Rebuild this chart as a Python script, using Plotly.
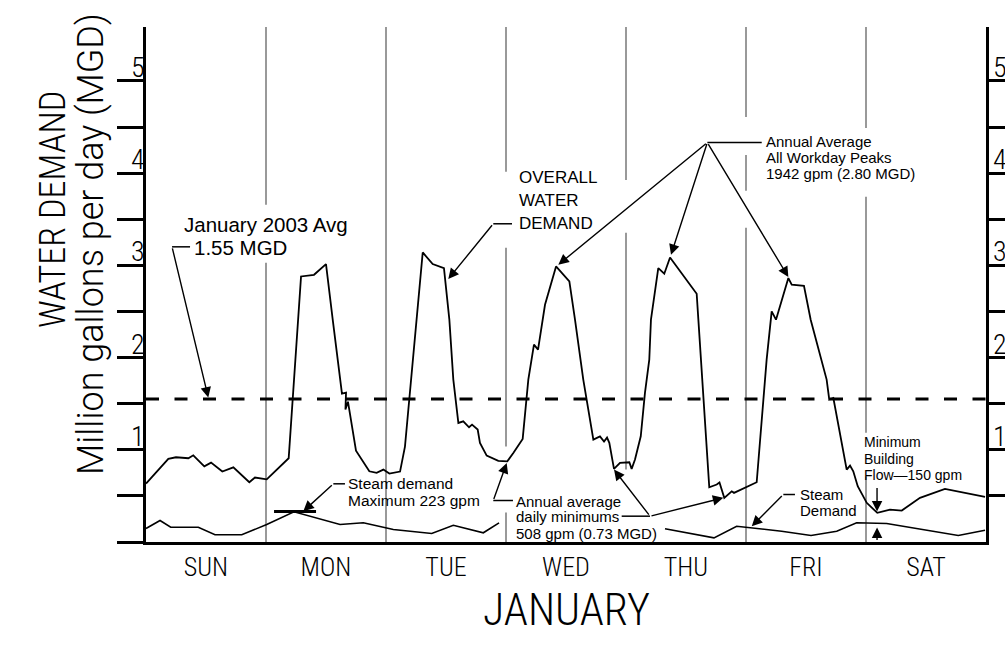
import plotly.graph_objects as go

# ---------------- data ----------------
DAYS = ["SUN", "MON", "TUE", "WED", "THU", "FRI", "SAT"]
DAY_CENTERS = [0.5, 1.5, 2.5, 3.5, 4.5, 5.5, 6.5]
DAY_BOUNDARIES = [1, 2, 3, 4, 5, 6]

# overall water demand: position in the week (days) / MGD
demand_day = [0.000, 0.186, 0.250, 0.353, 0.394, 0.486, 0.542, 0.636, 0.728, 0.861,
              0.908, 1.006, 1.189, 1.292, 1.400, 1.500, 1.556, 1.617, 1.633, 1.667,
              1.662, 1.683, 1.750, 1.861, 1.922, 1.978, 2.028, 2.117, 2.158, 2.306,
              2.389, 2.483, 2.528, 2.561, 2.603, 2.644, 2.692, 2.717, 2.764, 2.783,
              2.839, 2.936, 3.011, 3.061, 3.139, 3.186, 3.233, 3.267, 3.325, 3.417,
              3.528, 3.575, 3.644, 3.728, 3.783, 3.817, 3.842, 3.861, 3.900, 3.950,
              4.028, 4.047, 4.075, 4.123, 4.158, 4.194, 4.208, 4.269, 4.319, 4.367,
              4.589, 4.603, 4.625, 4.694, 4.756, 4.779, 4.819, 4.881, 4.900, 5.089,
              5.172, 5.214, 5.250, 5.353, 5.381, 5.483, 5.539, 5.672, 5.694, 5.728,
              5.839, 5.867, 5.894, 5.931, 6.006, 6.094, 6.200, 6.298, 6.450, 6.658,
              6.992]
demand_mgd = [0.634, 0.901, 0.919, 0.908, 0.940, 0.821, 0.861, 0.764, 0.810, 0.648,
              0.699, 0.680, 0.908, 2.880, 2.898, 3.014, 2.411, 1.761, 1.609, 1.620,
              1.436, 1.522, 0.991, 0.767, 0.750, 0.785, 0.742, 0.764, 1.035, 3.140,
              3.014, 2.971, 2.411, 1.761, 1.291, 1.309, 1.244, 1.273, 1.219, 1.075,
              0.937, 0.880, 0.875, 0.966, 1.118, 1.761, 2.140, 2.086, 2.573, 2.988,
              2.826, 2.411, 1.761, 1.111, 1.146, 1.089, 1.132, 1.075, 0.793, 0.858,
              0.865, 0.793, 0.894, 1.146, 1.617, 1.977, 2.411, 2.971, 2.909, 3.086,
              2.692, 2.411, 1.977, 0.594, 0.623, 0.645, 0.479, 0.550, 0.533, 0.648,
              1.977, 2.501, 2.411, 2.862, 2.790, 2.779, 2.411, 1.761, 1.544, 1.562,
              0.785, 0.829, 0.767, 0.605, 0.425, 0.316, 0.352, 0.341, 0.479, 0.576,
              0.490]

# steam demand (gap where the note text sits)
steam_day = [0.000, 0.117, 0.206, 0.436, 0.575, 0.798, 1.006, 1.233, 1.617, 1.811,
             2.061, 2.381, 2.561, 2.811, 2.942, None, 4.325, 4.733, 4.922, 5.297,
             5.542, 5.756, 5.922, 6.172, 6.769, 6.992]
steam_mgd = [0.146, 0.233, 0.160, 0.160, 0.078, 0.078, 0.190, 0.327, 0.190, 0.208,
             0.135, 0.092, 0.182, 0.100, 0.208, None, 0.143, 0.045, 0.171, 0.117,
             0.070, 0.117, 0.208, 0.200, 0.070, 0.128]

JAN_AVG_MGD = 1.55
STEAM_MAX_MGD = 0.33
STEAM_MAX_SPAN = [1.067, 1.417]

Y_TICKS = [0, 0.5, 1, 1.5, 2, 2.5, 3, 3.5, 4, 4.5, 5]
Y_TICKS_RIGHT = [0.5, 1, 1.5, 2, 2.5, 3, 3.5, 4, 4.5, 5]
Y_LABELS = [1, 2, 3, 4, 5]

# ---------------- layout constants ----------------
W, H = 1005, 646
ML, MR, MT, MB = 146, 19, 27, 104
YMAX = 5.585
XMAX = 7

THIN = "Roboto Condensed Light, Roboto Condensed, Liberation Sans Narrow, Roboto, sans-serif"
LIGHT = "Roboto Light, Roboto, Liberation Sans, sans-serif"
NOTE = "Liberation Sans, Arial, sans-serif"
INK = "black"

# gaps (wipeouts) in the day separators, in MGD units
GRID_GAPS = {
    1: [(3.028, 3.657)],
    2: [],
    3: [(0.320, 1.035), (3.191, 4.014)],
    4: [(0.0, 0.785), (3.353, 3.927)],
    5: [(3.407, 3.808), (4.198, 4.610)],
    6: [(0.710, 1.186), (3.743, 4.491)],
}

fig = go.Figure()

fig.add_trace(go.Scatter(x=demand_day, y=demand_mgd, mode="lines",
                         line=dict(color=INK, width=1.8), hoverinfo="skip",
                         showlegend=False))
fig.add_trace(go.Scatter(x=steam_day, y=steam_mgd, mode="lines",
                         line=dict(color=INK, width=1.6), hoverinfo="skip",
                         connectgaps=False, showlegend=False))
fig.add_trace(go.Scatter(x=[0, XMAX], y=[JAN_AVG_MGD, JAN_AVG_MGD], mode="lines",
                         line=dict(color=INK, width=3, dash="13px,15.5px"),
                         hoverinfo="skip", showlegend=False, yaxis="y2"))
fig.add_trace(go.Scatter(x=STEAM_MAX_SPAN, y=[STEAM_MAX_MGD, STEAM_MAX_MGD],
                         mode="lines", line=dict(color=INK, width=3),
                         hoverinfo="skip", showlegend=False))

# day separators with wipeout gaps
for d in DAY_BOUNDARIES:
    start = 0.0
    for g0, g1 in sorted(GRID_GAPS[d]):
        if g0 > start:
            fig.add_shape(type="line", xref="x", yref="y", x0=d, x1=d, y0=start, y1=g0,
                          line=dict(color="#555", width=1.2), layer="below")
        start = g1
    fig.add_shape(type="line", xref="x", yref="y", x0=d, x1=d, y0=start, y1=YMAX,
                  line=dict(color="#555", width=1.2), layer="below")

# leader segments (no head)
LEADERS = [
    ((0.217, 3.201), (0.367, 3.201)),
    ((1.561, 0.631), (1.658, 0.631)),
    ((2.894, 3.451), (3.050, 3.451)),
    ((4.678, 4.332), (5.131, 4.332)),
    ((2.894, 0.450), (3.058, 0.450)),
    ((3.964, 0.280), (4.200, 0.280)),
    ((5.311, 0.515), (5.408, 0.515)),
]
for (x0, y0), (x1, y1) in LEADERS:
    fig.add_shape(type="line", xref="x", yref="y", x0=x0, y0=y0, x1=x1, y1=y1,
                  line=dict(color=INK, width=1.5))

# arrows: (tail, tip)
ARROWS = [
    ((0.217, 3.201), (0.519, 1.566)),
    ((1.561, 0.631), (1.311, 0.334)),
    ((2.894, 3.451), (2.519, 2.852)),
    ((4.678, 4.332), (3.436, 3.007)),
    ((4.678, 4.332), (4.375, 3.115)),
    ((4.678, 4.332), (5.353, 2.873)),
    ((2.894, 0.450), (3.006, 0.858)),
    ((4.200, 0.280), (3.900, 0.785)),
    ((4.200, 0.280), (4.811, 0.479)),
    ((5.311, 0.515), (5.048, 0.171)),
    ((6.092, 0.601), (6.092, 0.331)),
    ((6.092, 0.005), (6.092, 0.157)),
]
annotations = []
for (tx, ty), (hx, hy) in ARROWS:
    annotations.append(dict(x=hx, y=hy, xref="x", yref="y", ax=tx, ay=ty,
                            axref="x", ayref="y", text="", showarrow=True,
                            arrowhead=2, arrowsize=1.5, arrowwidth=1.4,
                            arrowcolor=INK, standoff=0, startstandoff=0))

# note texts: (text, left-day, centre-MGD, size)
NOTES = [
    ("January 2003 Avg", 0.300, 3.440, 20.5),
    ("1.55 MGD", 0.384, 3.191, 20.5),
    ("OVERALL", 3.090, 3.949, 17),
    ("WATER", 3.090, 3.700, 17),
    ("DEMAND", 3.090, 3.451, 17),
    ("Annual Average", 5.150, 4.342, 15),
    ("All Workday Peaks", 5.150, 4.173, 15),
    ("1942 gpm (2.80 MGD)", 5.150, 3.992, 15),
    ("Steam demand", 1.664, 0.631, 15.5),
    ("Maximum 223 gpm", 1.664, 0.453, 15.5),
    ("Annual average", 3.067, 0.442, 15),
    ("daily minimums", 3.067, 0.273, 15),
    ("508 gpm (0.73 MGD)", 3.067, 0.092, 15),
    ("Steam", 5.436, 0.515, 15),
    ("Demand", 5.436, 0.341, 15),
    ("Minimum", 5.970, 1.086, 14),
    ("Building", 5.970, 0.905, 14),
    ("Flow\u2014150 gpm", 5.970, 0.724, 14),
]
for txt, x, y, sz in NOTES:
    annotations.append(dict(x=x, y=y, xref="x", yref="y", text=txt, showarrow=False,
                            xanchor="left", yanchor="middle",
                            font=dict(family=NOTE, size=sz, color=INK)))

# axis number labels (sitting on top of tick lines, both sides)
PW = W - ML - MR
for n in Y_LABELS:
    for px in (129, 991):
        annotations.append(dict(x=(px - ML) / PW, y=n, xref="paper", yref="y",
                                text=str(n), showarrow=False, xanchor="left",
                                yanchor="bottom", yshift=-5,
                                font=dict(family=THIN, size=28, color=INK, weight=300)))

PH = H - MT - MB
BASE = H - MB
annotations.append(dict(x=(53 - ML) / PW, y=(BASE - 210) / PH, xref="paper", yref="paper",
                        text="WATER DEMAND", textangle=-90, showarrow=False,
                        xanchor="center", yanchor="middle",
                        font=dict(family=THIN, size=36, color=INK, weight=300)))
annotations.append(dict(x=(91 - ML) / PW, y=(BASE - 244) / PH, xref="paper", yref="paper",
                        text="Million gallons per day (MGD)", textangle=-90, showarrow=False,
                        xanchor="center", yanchor="middle",
                        font=dict(family=LIGHT, size=36, color=INK, weight=300)))
annotations.append(dict(x=0.5, y=(BASE - 610) / PH, xref="paper", yref="paper",
                        text="JANUARY", showarrow=False, xanchor="center", yanchor="middle",
                        font=dict(family=THIN, size=44, color=INK, weight=300)))

fig.update_layout(
    width=W, height=H,
    margin=dict(l=ML, r=MR, t=MT, b=MB, pad=0, autoexpand=False),
    paper_bgcolor="white", plot_bgcolor="white",
    showlegend=False,
    annotations=annotations,
    xaxis=dict(range=[0, XMAX], showgrid=False, zeroline=False, automargin=False,
               showline=True, linecolor=INK, linewidth=3,
               tickmode="array", tickvals=DAY_CENTERS, ticktext=DAYS, ticks="",
               ticklabelstandoff=0,
               tickfont=dict(family=THIN, size=26, color=INK, weight=300)),
    yaxis=dict(range=[0, YMAX], showgrid=False, zeroline=False, automargin=False,
               showline=True, linecolor=INK, linewidth=3,
               tickmode="array", tickvals=Y_TICKS, ticks="outside", ticklen=26,
               tickwidth=2.5, tickcolor=INK, showticklabels=False),
    yaxis2=dict(range=[0, YMAX], overlaying="y", side="right", anchor="x",
                showgrid=False, zeroline=False, automargin=False,
                showline=True, linecolor=INK, linewidth=3,
                tickmode="array", tickvals=Y_TICKS_RIGHT, ticks="outside", ticklen=22,
                tickwidth=2.5, tickcolor=INK, showticklabels=False),
)

fig.write_html("out.html", config={"displayModeBar": False},
               post_script="document.body.style.margin='0';document.body.style.overflow='hidden';")
